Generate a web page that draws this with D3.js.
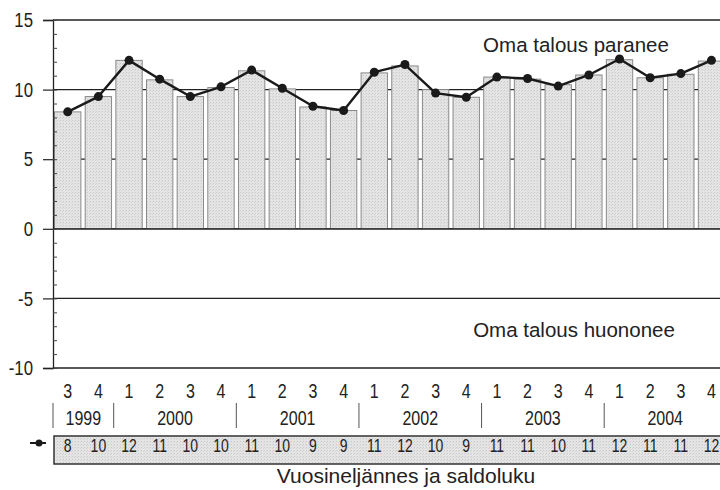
<!DOCTYPE html>
<html>
<head>
<meta charset="utf-8">
<script src="https://cdn.jsdelivr.net/npm/d3@7"></script>
<style>
html,body{margin:0;padding:0;background:#fff;}
svg{display:block;}
text{font-family:"Liberation Sans",Arial,Helvetica,sans-serif;}
</style>
</head>
<body>
<svg id="chart" width="720" height="490"></svg>
<script>
// ---- data ----
const quarters = [3,4,1,2,3,4,1,2,3,4,1,2,3,4,1,2,3,4,1,2,3,4];
const years = ["1999","2000","2001","2002","2003","2004"];
const yearQuarterCounts = [2,4,4,4,4,4];
const barValues = [8.4,9.5,12.1,10.7,9.5,10.15,11.35,10.05,8.75,8.5,11.2,11.7,10.0,9.45,10.9,10.75,10.35,11.05,12.15,10.85,11.1,12.05];
const lineValues = [8.4,9.5,12.1,10.75,9.5,10.2,11.4,10.1,8.8,8.5,11.25,11.8,9.75,9.45,10.9,10.8,10.25,11.05,12.2,10.85,11.15,12.1];
const saldo = [8,10,12,11,10,10,11,10,9,9,11,12,10,9,11,11,10,11,12,11,11,12];
const yTicks = [-10,-5,0,5,10,15];
const gridValues = [15,10,5,0,-5,-10];
const labelTop = "Oma talous paranee";
const labelBottom = "Oma talous huononee";
const xTitle = "Vuosineljännes ja saldoluku";

// ---- layout ----
const svg = d3.select("#chart");
const left = 53, step = 30.6, n = quarters.length;
const right = left + step*n;
const y = d3.scaleLinear().domain([-10,15]).range([368,20]);
const x = d3.scaleBand().domain(d3.range(n)).range([left, right]).paddingInner(0.14).paddingOuter(0.05);
const cx = i => x(i) + x.bandwidth()/2;
const SX = 0.8; // condensed look

function narrowText(g, data, fx, fy, size, fmt) {
  return g.selectAll("text").data(data).join("text")
    .attr("transform", (d,i) => `translate(${fx(d,i)},${fy(d,i)}) scale(${SX},1)`)
    .attr("text-anchor","middle").attr("font-size",size).attr("fill","#222").text(fmt);
}

// pattern for stipple
const defs = svg.append("defs");
const pat = defs.append("pattern").attr("id","stip").attr("width",3).attr("height",3).attr("patternUnits","userSpaceOnUse");
pat.append("rect").attr("width",3).attr("height",3).attr("fill","#e4e4e4");
pat.append("rect").attr("x",0).attr("y",0).attr("width",1).attr("height",1).attr("fill","#c8c8c8");
pat.append("rect").attr("x",2).attr("y",1).attr("width",1).attr("height",1).attr("fill","#d4d4d4");

// gridlines
svg.append("g").selectAll("line").data(gridValues).join("line")
  .attr("x1", left).attr("x2", 720)
  .attr("y1", d => y(d)).attr("y2", d => y(d))
  .attr("stroke", "#222").attr("stroke-width", 1.3);

// bars
svg.append("g").selectAll("rect").data(barValues).join("rect")
  .attr("x", (d,i) => x(i))
  .attr("width", x.bandwidth())
  .attr("y", d => y(d))
  .attr("height", d => y(0) - y(d))
  .attr("fill", "url(#stip)")
  .attr("stroke", "#8a8a8a").attr("stroke-width", 1);

// zero line over bars
svg.append("line").attr("x1", left).attr("x2", 720).attr("y1", y(0)).attr("y2", y(0))
  .attr("stroke","#222").attr("stroke-width",1.3);

// y axis (major)
const yAxis = d3.axisLeft(y).tickValues(yTicks).tickSize(10).tickPadding(8).tickFormat(d => String(d));
const ga = svg.append("g").attr("transform", `translate(${left},0)`).call(yAxis);
ga.select(".domain").attr("stroke","#222").attr("stroke-width",1.3);
ga.selectAll(".tick line").attr("stroke","#222").attr("stroke-width",1.2);
ga.selectAll(".tick text").attr("x",0).attr("transform",`translate(-20,0) scale(0.8,1)`)
  .attr("font-size",21).attr("fill","#222");
// minor ticks
const minor = d3.axisLeft(y).tickValues(d3.range(-10,16,1)).tickSize(-4).tickFormat("");
const gm = svg.append("g").attr("transform", `translate(${left},0)`).call(minor);
gm.select(".domain").remove();
gm.selectAll(".tick line").attr("stroke","#444").attr("stroke-width",1);

// line + dots
const line = d3.line().x((d,i) => cx(i)).y(d => y(d));
svg.append("path").datum(lineValues).attr("d", line)
  .attr("fill","none").attr("stroke","#1a1a1a").attr("stroke-width",2.4).attr("stroke-linejoin","round");
svg.append("g").selectAll("circle").data(lineValues).join("circle")
  .attr("cx", (d,i) => cx(i)).attr("cy", d => y(d)).attr("r", 4.5).attr("fill","#1a1a1a");

// annotations
svg.append("text").attr("x", 576).attr("y", 52).attr("text-anchor","middle")
  .attr("font-size", 20.5).attr("fill","#222").text(labelTop);
svg.append("text").attr("x", 574).attr("y", 337).attr("text-anchor","middle")
  .attr("font-size", 20.5).attr("fill","#222").text(labelBottom);

// quarter labels
narrowText(svg.append("g"), quarters, (d,i) => cx(i), () => 398, 20, d => d);

// year labels and separators
let start = 0;
const yearSpans = years.map((yr,k) => { const s = start; start += yearQuarterCounts[k]; return {yr, s, e: start}; });
const edge = i => i === 0 ? left : (i >= n ? right : (x(i-1) + x.bandwidth() + x(i)) / 2);
svg.append("g").selectAll("line").data(yearSpans).join("line")
  .attr("x1", d => edge(d.s)).attr("x2", d => edge(d.s))
  .attr("y1", 403).attr("y2", 428).attr("stroke","#555").attr("stroke-width",1);
narrowText(svg.append("g"), yearSpans, d => (edge(d.s) + edge(d.e)) / 2, () => 425, 20, d => d.yr);

// saldo table row
svg.append("rect").attr("x", left+1).attr("y", 436).attr("width", 720).attr("height", 28)
  .attr("fill","url(#stip)").attr("stroke","#333").attr("stroke-width",1.5);
narrowText(svg.append("g"), saldo, (d,i) => cx(i), () => 451.5, 17.5, d => d);
// legend marker
svg.append("line").attr("x1", 30).attr("x2", 46).attr("y1", 443).attr("y2", 443).attr("stroke","#1a1a1a").attr("stroke-width",2);
svg.append("circle").attr("cx", 39).attr("cy", 443).attr("r", 3.5).attr("fill","#1a1a1a");

// x title
svg.append("text").attr("x", 406).attr("y", 483).attr("text-anchor","middle")
  .attr("font-size", 21).attr("fill","#222").text(xTitle);
</script>
</body>
</html>
